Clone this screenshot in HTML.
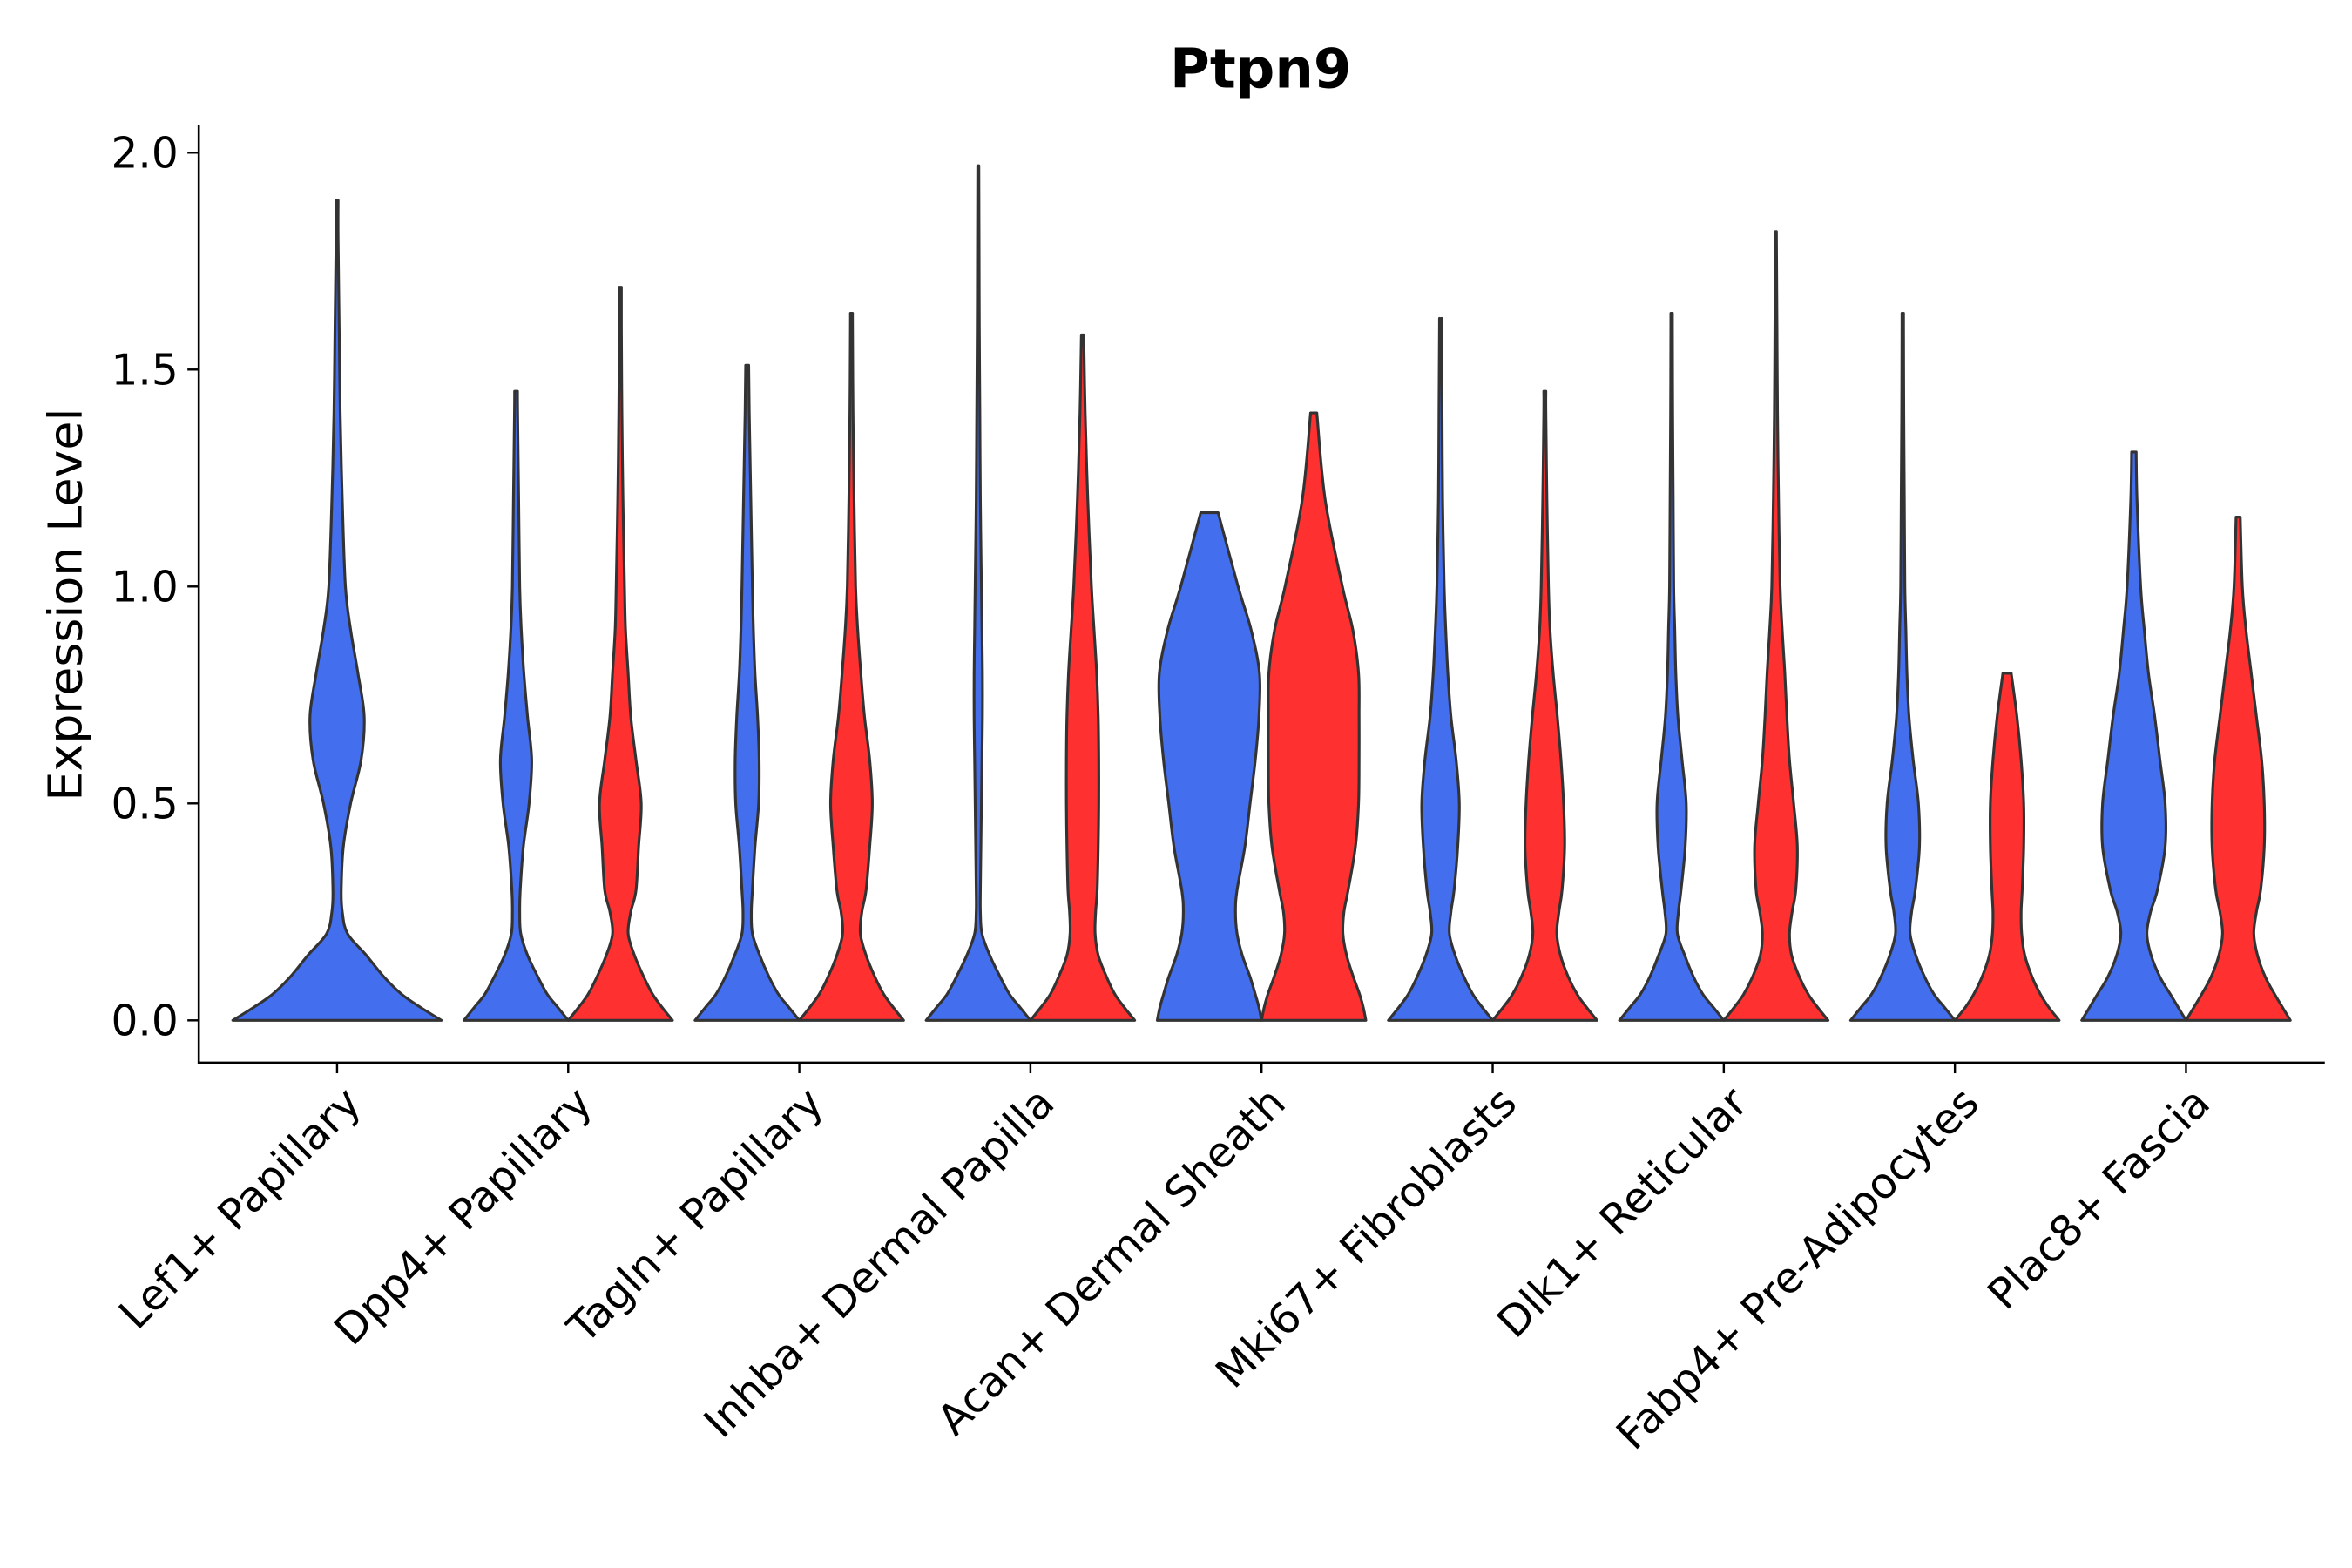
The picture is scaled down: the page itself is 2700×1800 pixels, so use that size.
<!DOCTYPE html>
<html><head><meta charset="utf-8"><style>
html,body{margin:0;padding:0;background:#fff;}
svg{display:block;}
text{font-family:"DejaVu Sans","Liberation Sans",sans-serif;fill:#000;}
</style></head><body>
<svg id="chart" width="2700" height="1800" viewBox="0 0 1556 1037.3" preserveAspectRatio="none" xmlns="http://www.w3.org/2000/svg">
<text x="834" y="58" text-anchor="middle" font-size="36" font-weight="bold">Ptpn9</text>
<text transform="translate(54,400) rotate(-90)" text-anchor="middle" font-size="31">Expression Level</text>
<g id="plot"></g>
</svg>
<script>
const categories = ["Lef1+ Papillary","Dpp4+ Papillary","Tagln+ Papillary","Inhba+ Dermal Papilla","Acan+ Dermal Sheath","Mki67+ Fibroblasts","Dlk1+ Reticular","Fabp4+ Pre-Adipocytes","Plac8+ Fascia"];
const yTicks = [0, 0.5, 1.0, 1.5, 2.0];
const yTickLabels = ["0.0","0.5","1.0","1.5","2.0"];
const levels = [0,0.03,0.06,0.1,0.15,0.2,0.25,0.3,0.4,0.5,0.6,0.7,0.8,0.9,1.0,1.2,1.4,1.6,1.8,2.0];
// blue group: max value and relative width at levels
const blueMax = [1.89,1.45,1.51,1.97,1.17,1.61,1.63,1.63,1.31];
const blueWidths = [
 [1,.8,.62,.45,.28,.1,.05,.04,.06,.13,.23,.26,.2,.13,.08,.05,.03,.02,.01,.01],
 [1,.8,.6,.42,.22,.09,.07,.08,.14,.25,.3,.22,.15,.1,.07,.05,.03,.02],
 [1,.8,.6,.42,.24,.1,.08,.1,.15,.22,.23,.2,.15,.12,.1,.07,.04,.02],
 [1,.8,.6,.42,.22,.07,.04,.04,.05,.06,.07,.08,.08,.07,.06,.04,.03,.02,.015,.01],
 [1,.95,.88,.78,.63,.53,.5,.53,.68,.78,.88,.95,.96,.8,.55,.1],
 [1,.8,.62,.45,.28,.17,.2,.26,.33,.36,.3,.2,.14,.1,.07,.04,.03,.02],
 [1,.8,.6,.42,.25,.11,.13,.18,.26,.28,.2,.12,.08,.06,.04,.03,.02,.015],
 [1,.8,.6,.42,.25,.14,.17,.24,.32,.3,.2,.12,.08,.06,.04,.03,.02,.015],
 [1,.85,.7,.5,.33,.25,.32,.45,.6,.6,.5,.4,.28,.2,.13,.06,.03]
];
// red group (null = no red group)
const redMax = [null,1.69,1.63,1.58,1.40,1.45,1.81,0.80,1.16];
const redWidths = [
 null,
 [1,.8,.62,.45,.27,.15,.2,.3,.35,.4,.3,.2,.15,.1,.08,.05,.03,.02],
 [1,.8,.62,.45,.28,.17,.2,.28,.35,.4,.35,.25,.18,.12,.08,.05,.03,.02],
 [1,.8,.62,.46,.3,.24,.25,.28,.3,.31,.31,.3,.27,.22,.17,.1,.05,.02],
 [1,.95,.88,.76,.63,.56,.58,.66,.8,.86,.87,.87,.86,.75,.55,.22,.06],
 [1,.8,.62,.45,.3,.23,.27,.33,.38,.36,.31,.24,.16,.1,.07,.04,.02],
 [1,.8,.62,.45,.3,.26,.31,.38,.41,.34,.26,.21,.17,.12,.08,.05,.03,.02,.01],
 [1,.8,.64,.48,.34,.28,.27,.29,.32,.32,.27,.19,.08],
 [1,.85,.7,.52,.37,.3,.35,.43,.5,.5,.45,.35,.25,.15,.08,.03]
];

const NS="http://www.w3.org/2000/svg";
const plot=document.getElementById('plot');
const X0=223, DX=152.9;
const xScale=i=>X0+i*DX;
const yScale=v=>675-287*v;
function mk(tag,attrs){const e=document.createElementNS(NS,tag);for(const k in attrs)e.setAttribute(k,attrs[k]);plot.appendChild(e);return e;}

function profile(widths,maxV){
  const pts=[];
  for(let i=0;i<widths.length&&i<levels.length;i++){
    if(levels[i]<maxV) pts.push([levels[i],widths[i]]);
    else{
      const j=i-1;const t=(maxV-levels[j])/(levels[i]-levels[j]);
      pts.push([maxV,widths[j]+(widths[i]-widths[j])*t]);break;
    }
  }
  if(pts[pts.length-1][0]<maxV) pts.push([maxV,pts[pts.length-1][1]]);
  return pts;
}
function smooth(P){
  let d='';
  for(let i=0;i<P.length-1;i++){
    const p0=P[i-1]||P[i],p1=P[i],p2=P[i+1],p3=P[i+2]||P[i+1];
    const c1=[p1[0]+(p2[0]-p0[0])/6,p1[1]+(p2[1]-p0[1])/6];
    const c2=[p2[0]-(p3[0]-p1[0])/6,p2[1]-(p3[1]-p1[1])/6];
    d+=`C${c1[0].toFixed(2)},${c1[1].toFixed(2)} ${c2[0].toFixed(2)},${c2[1].toFixed(2)} ${p2[0].toFixed(2)},${p2[1].toFixed(2)} `;
  }
  return d;
}
function violin(cx,half,widths,maxV,color,name){
  const pr=profile(widths,maxV);
  const right=pr.map(p=>[cx+half*p[1],yScale(p[0])]);
  const left=pr.map(p=>[cx-half*p[1],yScale(p[0])]).reverse();
  let d=`M${right[0][0].toFixed(2)},${right[0][1].toFixed(2)} `+smooth(right);
  d+=`L${left[0][0].toFixed(2)},${left[0][1].toFixed(2)} `+smooth(left)+'Z';
  const p=mk('path',{d:d,fill:color,stroke:'#333333','stroke-width':1.8,'stroke-linejoin':'round'});
  
  
}
categories.forEach((c,i)=>{
  const cx=xScale(i);
  const slug=c.toLowerCase().replace(/[^a-z0-9]+/g,'-').replace(/-$/,'');
  if(redMax[i]===null){
    violin(cx,69,blueWidths[i],blueMax[i],'#436EEE','violin-blue-'+slug);
  } else {
    violin(cx-34.5,34.5,blueWidths[i],blueMax[i],'#436EEE','violin-blue-'+slug);
    violin(cx+34.5,34.5,redWidths[i],redMax[i],'#FF3030','violin-red-'+slug);
  }
  const tk=mk('line',{x1:cx,x2:cx,y1:703,y2:710,stroke:'#000','stroke-width':1.4});
  
  
  const t=mk('text',{transform:`translate(${cx+3},717) rotate(-45)`,'text-anchor':'end',dy:'0.72em','font-size':28});
  t.textContent=c;
  
  
});
yTicks.forEach((v,i)=>{
  const y=yScale(v);
  const tk=mk('line',{x1:124,x2:131,y1:y,y2:y,stroke:'#000','stroke-width':1.4});
  
  
  const t=mk('text',{x:118,y:y+10,'text-anchor':'end','font-size':28});
  t.textContent=yTickLabels[i];
  
  
});
const ya=mk('line',{x1:131.5,x2:131.5,y1:83,y2:703.7,stroke:'#000','stroke-width':1.5});


const xa=mk('line',{x1:130.8,x2:1538,y1:703,y2:703,stroke:'#000','stroke-width':1.5});


</script>
</body></html>
